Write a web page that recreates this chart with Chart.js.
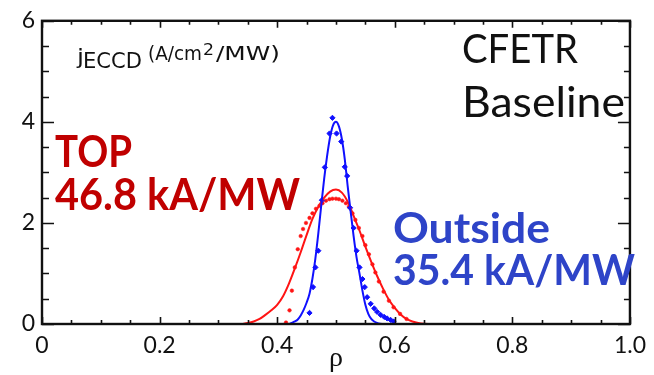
<!DOCTYPE html>
<html>
<head>
<meta charset="utf-8">
<script src="https://cdn.jsdelivr.net/npm/chart.js@4.4.1/dist/chart.umd.min.js"></script>
<style>
  html, body { margin: 0; padding: 0; background: #fff; }
  #wrap { width: 654px; height: 375px; }
</style>
</head>
<body>
<div id="wrap"><canvas id="c" width="654" height="375"></canvas></div>
<script>
// axis ticks
const rhoTicks = [0, 0.2, 0.4, 0.6, 0.8, 1.0];
const jTicks = [0, 2, 4, 6];

// TOP launch: fitted profile (solid red)
const topFitRho = [0.34, 0.35, 0.36, 0.37, 0.38, 0.39, 0.40, 0.41, 0.42, 0.43, 0.44, 0.45, 0.46, 0.47, 0.48, 0.49, 0.50,
                   0.51, 0.52, 0.53, 0.54, 0.55, 0.56, 0.57, 0.58, 0.59, 0.60, 0.61, 0.62, 0.63, 0.64, 0.65, 0.66];
const topFitJ   = [0.00, 0.02, 0.05, 0.10, 0.18, 0.27, 0.38, 0.55, 0.80, 1.10, 1.42, 1.76, 2.08, 2.32, 2.50, 2.62, 2.66,
                   2.60, 2.42, 2.14, 1.85, 1.53, 1.23, 0.95, 0.70, 0.48, 0.32, 0.19, 0.10, 0.05, 0.02, 0.005, 0.00];

// TOP launch: ray-tracing points (red dots)
const topDotRho = [0.415, 0.421, 0.425, 0.430, 0.435, 0.440, 0.444, 0.449, 0.455, 0.460, 0.466, 0.472, 0.477, 0.483, 0.489,
                   0.494, 0.500, 0.505, 0.511, 0.517, 0.522, 0.528, 0.533, 0.539, 0.545, 0.550, 0.556, 0.562, 0.567, 0.573,
                   0.581, 0.590, 0.598, 0.609, 0.620];
const topDotJ   = [0.03, 0.27, 0.66, 1.12, 1.48, 1.74, 1.88, 2.00, 2.10, 2.19, 2.28, 2.34, 2.39, 2.44, 2.47,
                   2.48, 2.48, 2.47, 2.44, 2.39, 2.32, 2.19, 2.06, 1.90, 1.74, 1.56, 1.38, 1.18, 1.02, 0.84,
                   0.64, 0.46, 0.33, 0.20, 0.10];

// Outside launch: fitted profile (solid blue)
const outFitRho = [0.420, 0.425, 0.430, 0.435, 0.440, 0.445, 0.450, 0.455, 0.460, 0.465, 0.470, 0.475, 0.480, 0.485, 0.490, 0.495, 0.500,
                   0.505, 0.510, 0.515, 0.520, 0.525, 0.530, 0.535, 0.540, 0.545, 0.550, 0.555, 0.560, 0.565, 0.570, 0.575, 0.580];
const outFitJ   = [0.00, 0.02, 0.05, 0.09, 0.17, 0.28, 0.42, 0.60, 0.90, 1.30, 1.80, 2.35, 2.88, 3.33, 3.70, 3.93, 4.00,
                   3.91, 3.66, 3.26, 2.72, 2.22, 1.74, 1.32, 1.00, 0.66, 0.38, 0.20, 0.10, 0.05, 0.02, 0.005, 0.00];

// Outside launch: ray-tracing points (blue dots)
const outDotRho = [0.455, 0.461, 0.465, 0.470, 0.476, 0.481, 0.489, 0.494, 0.501, 0.509, 0.515, 0.519, 0.524, 0.530,
                   0.535, 0.540, 0.545, 0.549, 0.553, 0.559, 0.565, 0.570, 0.576, 0.582, 0.587, 0.593, 0.598];
const outDotJ   = [0.22, 0.73, 1.12, 1.45, 2.45, 3.10, 3.77, 4.08, 3.77, 3.61, 3.11, 2.93, 2.30, 1.90,
                   1.45, 1.12, 0.89, 0.73, 0.53, 0.40, 0.31, 0.24, 0.18, 0.14, 0.11, 0.08, 0.05];

const RED = '#ff1414';
const BLUE = '#1010ff';
const INK = '#111111';

const pts = (xs, ys) => xs.map((x, i) => ({ x: x, y: ys[i] }));

// box frame with inward ticks on all four sides (IDL style)
const frameTicks = {
    id: 'frameTicks',
    afterDatasetsDraw(chart) {
        const { ctx, chartArea: a, scales: { x, y } } = chart;
        ctx.save();
        ctx.strokeStyle = INK;
        ctx.lineWidth = 1.6;
        ctx.beginPath();
        for (let i = 0; i <= 20; i++) {
            const v = i * 0.05;
            const px = Math.round(x.getPixelForValue(v)) + 0.5;
            const len = (i % 4 === 0) ? 7 : 4;
            ctx.moveTo(px, a.bottom); ctx.lineTo(px, a.bottom - len);
            ctx.moveTo(px, a.top); ctx.lineTo(px, a.top + len);
        }
        for (let i = 0; i <= 12; i++) {
            const v = i * 0.5;
            const py = Math.round(y.getPixelForValue(v)) + 0.5;
            const major = i % 4 === 0;
            ctx.moveTo(a.left, py); ctx.lineTo(a.left + (major ? 12 : 7), py);
            ctx.moveTo(a.right, py); ctx.lineTo(a.right - (major ? 12 : 6), py);
        }
        ctx.stroke();
        ctx.lineWidth = 2.4;
        ctx.strokeRect(a.left, a.top, a.right - a.left, a.bottom - a.top);
        ctx.restore();
    }
};

// draw text squeezed/stretched to a given width (the original face is a wide geometric sans)
function fitText(ctx, text, x, base, font, width) {
    ctx.font = font;
    const m = ctx.measureText(text).width;
    ctx.save();
    ctx.translate(x, base);
    ctx.scale(width / m, 1);
    ctx.fillText(text, 0, 0);
    ctx.restore();
}

// text annotations
const notes = {
    id: 'notes',
    afterDraw(chart) {
        const ctx = chart.ctx;
        ctx.save();
        ctx.textBaseline = 'alphabetic';
        ctx.textAlign = 'left';
        ctx.fillStyle = INK;

        fitText(ctx, 'j', 77, 64, '22px "DejaVu Sans"', 7);
        fitText(ctx, 'ECCD', 83, 68, '20.5px "DejaVu Sans"', 59);
        fitText(ctx, '(A/cm', 148, 60, '20px "DejaVu Sans"', 54);
        fitText(ctx, '2', 203, 55, '16px "DejaVu Sans"', 11);
        fitText(ctx, '/MW)', 216, 60, '20px "DejaVu Sans"', 64);

        fitText(ctx, 'CFETR', 462, 63, '41px Lato', 116);
        fitText(ctx, 'Baseline', 462, 117, '43px Lato', 163);

        ctx.fillStyle = '#c00000';
        fitText(ctx, 'TOP', 55, 167, 'bold 44px Lato', 77);
        fitText(ctx, '46.8 kA/MW', 55, 210, 'bold 43px Lato', 245);

        ctx.fillStyle = '#2e44c8';
        fitText(ctx, 'Outside', 393, 243, 'bold 42px Lato', 157);
        fitText(ctx, '35.4 kA/MW', 393, 285, 'bold 42px Lato', 242);
        ctx.restore();
    }
};

new Chart(document.getElementById('c'), {
    type: 'scatter',
    data: {
        datasets: [
            { label: 'Outside fit', data: pts(outFitRho, outFitJ), showLine: true, borderColor: BLUE,
              borderWidth: 2, pointRadius: 0, cubicInterpolationMode: 'monotone' },
            { label: 'TOP fit', data: pts(topFitRho, topFitJ), showLine: true, borderColor: RED,
              borderWidth: 2, pointRadius: 0, cubicInterpolationMode: 'monotone' },
            { label: 'Outside rays', data: pts(outDotRho, outDotJ), pointStyle: 'rectRot', pointRadius: 2.6,
              backgroundColor: BLUE, borderColor: BLUE, borderWidth: 1 },
            { label: 'TOP rays', data: pts(topDotRho, topDotJ), pointStyle: 'circle', pointRadius: 1.8,
              backgroundColor: RED, borderColor: RED, borderWidth: 0.5 }
        ]
    },
    options: {
        responsive: false,
        animation: false,
        devicePixelRatio: 1,
        layout: { padding: { top: 17, right: 19, left: 0, bottom: 0 } },
        plugins: { legend: { display: false }, tooltip: { enabled: false } },
        scales: {
            x: {
                type: 'linear', min: 0, max: 1,
                afterBuildTicks: s => { s.ticks = rhoTicks.map(v => ({ value: v })); },
                afterFit: s => { s.height = 51; },
                grid: { display: false, drawTicks: false },
                border: { display: false },
                ticks: {
                    color: INK, padding: 8, maxRotation: 0, autoSkip: false,
                    font: { family: 'Lato', size: 23 },
                    callback: v => (v === 0 ? '0' : v.toFixed(1))
                },
                title: { display: true, text: 'ρ', color: INK, padding: { top: 0, bottom: 0 },
                         font: { family: 'Liberation Serif', size: 28 } }
            },
            y: {
                min: 0, max: 6,
                afterBuildTicks: s => { s.ticks = jTicks.map(v => ({ value: v })); },
                afterFit: s => { s.width = 42; },
                grid: { display: false, drawTicks: false },
                border: { display: false },
                ticks: { color: INK, padding: 7, font: { family: 'Lato', size: 23 } }
            }
        }
    },
    plugins: [frameTicks, notes]
});
</script>
</body>
</html>
